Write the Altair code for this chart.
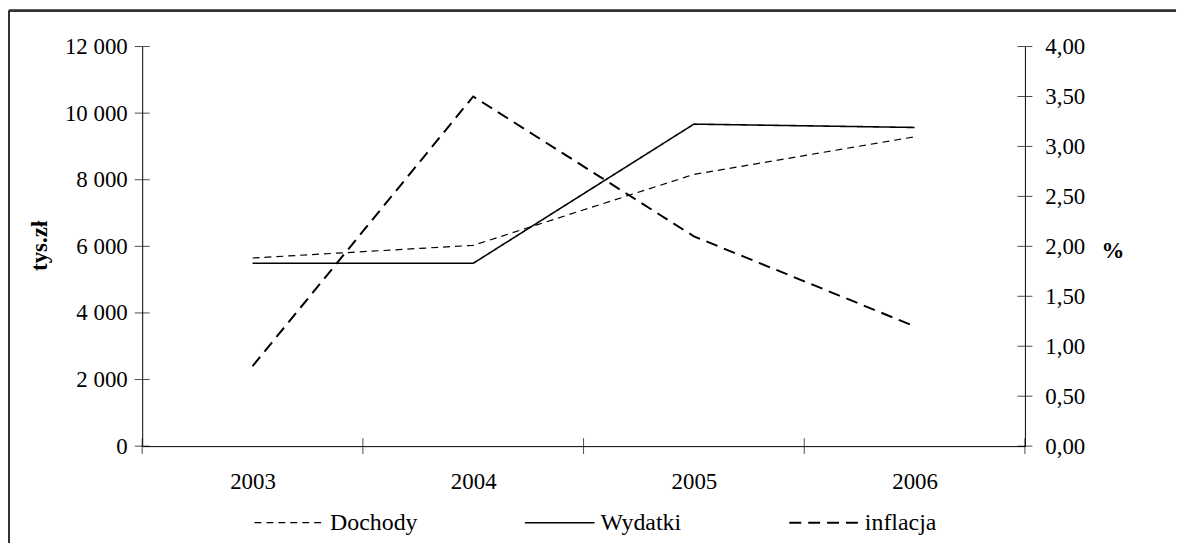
import altair as alt
import pandas as pd

years = [2003, 2004, 2005, 2006]
dochody = [5650, 6030, 8160, 9290]
wydatki = [5490, 5490, 9670, 9570]
inflacja = [0.80, 3.50, 2.10, 1.20]
series_names = ["Dochody", "Wydatki", "inflacja"]
left_tick_values = [0, 2000, 4000, 6000, 8000, 10000, 12000]
right_tick_values = [0, 0.5, 1.0, 1.5, 2.0, 2.5, 3.0, 3.5, 4.0]
category_bounds = [2002.5, 2003.5, 2004.5, 2005.5, 2006.5]

FONT = "Liberation Serif, Times New Roman, serif"
W, H = 888, 402

left_df = pd.DataFrame({
    "rok": years * 2,
    "wartosc": dochody + wydatki,
    "seria": ["Dochody"] * 4 + ["Wydatki"] * 4,
})
right_df = pd.DataFrame({"rok": years, "wartosc": inflacja, "seria": ["inflacja"] * 4})
xb_df = pd.DataFrame({"rok": category_bounds, "wartosc": [0] * len(category_bounds)})
lt_df = pd.DataFrame({"rok": [category_bounds[0]] * len(left_tick_values), "wartosc": left_tick_values})
rt_df = pd.DataFrame({"rok": [category_bounds[-1]] * len(right_tick_values), "wartosc": right_tick_values})

x_scale = alt.Scale(domain=[category_bounds[0], category_bounds[-1]], nice=False, zero=False)
yl_scale = alt.Scale(domain=[0, 12000], nice=False)
yr_scale = alt.Scale(domain=[0, 4], nice=False)

x_axis = alt.Axis(values=years, format="d", ticks=False, grid=False, title=None,
                  labelFont=FONT, labelFontSize=23, labelColor="black",
                  labelPadding=25, domainColor="black", domainWidth=1)

yl_axis = alt.Axis(
    values=left_tick_values, ticks=False, grid=False, title="tys.zł",
    labelExpr="replace(format(datum.value, ','), regexp(',', 'g'), ' ')",
    labelFont=FONT, labelFontSize=23, labelColor="black", labelPadding=15,
    domainColor="black", titleFont=FONT, titleFontSize=23, titleFontWeight="bold",
    titleColor="black", titleAngle=270, titleX=-103, titleY=200,
    titleAlign="center", titleBaseline="middle")

yr_axis = alt.Axis(
    orient="right", values=right_tick_values, ticks=False, grid=False, title="%",
    labelExpr="replace(format(datum.value, '.2f'), '.', ',')",
    labelFont=FONT, labelFontSize=23, labelColor="black", labelPadding=20,
    domainColor="black", titleFont=FONT, titleFontSize=23, titleFontWeight="bold",
    titleColor="black", titleAngle=0, titleX=88, titleY=205,
    titleAlign="center", titleBaseline="middle")

legend = alt.Legend(orient="none", legendX=136, legendY=467, direction="horizontal",
                    title=None, symbolType="M-7,0L7,0", symbolSize=100,
                    symbolStrokeColor="black", symbolFillColor="transparent",
                    labelFont=FONT, labelFontSize=24, labelColor="black",
                    labelOffset=29, columnPadding=104, padding=0)

dash_scale = alt.Scale(domain=series_names, range=[[7, 5], [1, 0], [12, 7]])
width_scale = alt.Scale(domain=series_names, range=[1.2, 2, 2.8])

X = alt.X("rok:Q", scale=x_scale, axis=x_axis)
YL = alt.Y("wartosc:Q", scale=yl_scale, axis=yl_axis)
YR = alt.Y("wartosc:Q", scale=yr_scale, axis=yr_axis)

left_lines = alt.Chart(left_df).mark_line(color="black").encode(
    x=X, y=YL,
    strokeDash=alt.StrokeDash("seria:N", scale=dash_scale, legend=legend),
    strokeWidth=alt.StrokeWidth("seria:N", scale=width_scale, legend=legend),
)
x_ticks = alt.Chart(xb_df).mark_tick(orient="vertical", size=16, thickness=1, color="black").encode(
    x=X, y=YL)
left_ticks = alt.Chart(lt_df).mark_tick(orient="horizontal", size=15, thickness=1, color="black").encode(
    x=X, y=YL)

right_line = alt.Chart(right_df).mark_line(color="black").encode(
    x=X, y=YR,
    strokeDash=alt.StrokeDash("seria:N", scale=dash_scale, legend=legend),
    strokeWidth=alt.StrokeWidth("seria:N", scale=width_scale, legend=legend),
)
right_ticks = alt.Chart(rt_df).mark_tick(orient="horizontal", size=15, thickness=1, color="black").encode(
    x=X, y=YR)

top_border = alt.Chart(xb_df).mark_rule(color="#333333", strokeWidth=2).encode(
    x=alt.value(-134), x2=alt.value(W + 152), y=alt.value(-36))
left_border = alt.Chart(xb_df).mark_rule(color="#333333", strokeWidth=2).encode(
    x=alt.value(-134), y=alt.value(-36), y2=alt.value(H + 150))

left = alt.layer(left_lines, x_ticks, left_ticks)
right = alt.layer(right_line, right_ticks)

chart = alt.layer(left, right, top_border, left_border).resolve_scale(
    y="independent"
).properties(
    width=W, height=H, padding={"left": 0, "top": 0, "right": 0, "bottom": 0}
).configure_view(strokeWidth=0)

chart.save("out.html", embed_options={"renderer": "svg", "actions": False})
